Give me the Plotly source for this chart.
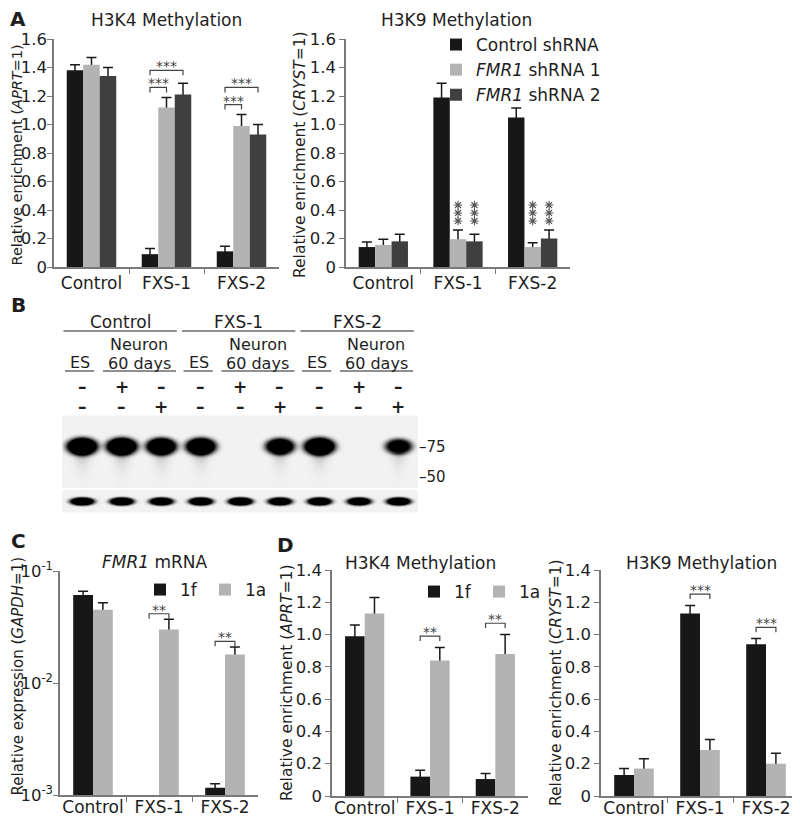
import numpy as np
import plotly.graph_objects as go

OFF = 8            # page body margin of the html page
W, H = 792, 811    # figure size so that the page fits 800x819
FONT = "DejaVu Sans"
TXT = "#1e1e1e"
AXC = "#7a7a7a"
ERRC = "#1a1a1a"
COL_BLACK = "#171717"
COL_LIGHT = "#b3b3b3"
COL_DARK = "#3f3f3f"

# ---------------- data ----------------
categories = ["Control", "FXS-1", "FXS-2"]

# Panel A
a_series = ["Control shRNA", "<i>FMR1</i> shRNA 1", "<i>FMR1</i> shRNA 2"]
a_h3k4_mean = [[1.38, 0.09, 0.11], [1.42, 1.12, 0.99], [1.34, 1.21, 0.93]]
a_h3k4_err = [[0.04, 0.04, 0.035], [0.05, 0.07, 0.08], [0.06, 0.08, 0.07]]
a_h3k4_sig = [(1, 0, 1, "***"), (1, 0, 2, "***"), (2, 0, 1, "***"), (2, 0, 2, "***")]
a_h3k9_mean = [[0.14, 1.19, 1.05], [0.155, 0.195, 0.14], [0.18, 0.18, 0.20]]
a_h3k9_err = [[0.035, 0.10, 0.065], [0.04, 0.065, 0.03], [0.05, 0.05, 0.06]]
a_h3k9_sig = [(1, 1), (1, 2), (2, 1), (2, 2)]
a_yticks = [0, 0.2, 0.4, 0.6, 0.8, 1.0, 1.2, 1.4, 1.6]

# Panel B (western blot)
b_groups = ["Control", "FXS-1", "FXS-2"]
b_sample = ["ES", "Neuron", "60 days"]
b_1f = ["–", "+", "–", "–", "+", "–", "–", "+", "–"]
b_1a = ["–", "–", "+", "–", "–", "+", "–", "–", "+"]
b_fmrp = [1.0, 1.0, 0.95, 0.95, 0.0, 0.85, 1.0, 0.0, 0.7]
b_actin = [0.9, 0.9, 0.85, 0.9, 0.95, 0.85, 0.9, 0.85, 0.9]
b_markers = ["–75", "–50"]

# Panel C
c_series = ["1f", "1a"]
c_mean = [[0.061, None, 0.00116], [0.045, 0.030, 0.018]]
c_err = [[0.005, None, 0.0001], [0.007, 0.007, 0.003]]
c_sig = [(1, 0, 1, "**"), (2, 0, 1, "**")]
c_ticks = [0.001, 0.01, 0.1]
c_ticktext = ["10<sup>-3</sup>", "10<sup>-2</sup>", "10<sup>-1</sup>"]

# Panel D
d_series = ["1f", "1a"]
d_h3k4_mean = [[0.99, 0.12, 0.105], [1.13, 0.84, 0.88]]
d_h3k4_err = [[0.07, 0.04, 0.035], [0.10, 0.08, 0.12]]
d_h3k4_sig = [(1, 0, 1, "**"), (2, 0, 1, "**")]
d_h3k9_mean = [[0.13, 1.13, 0.94], [0.17, 0.285, 0.20]]
d_h3k9_err = [[0.04, 0.05, 0.035], [0.06, 0.065, 0.065]]
d_h3k9_sig = [(1, 0, 1, "***"), (2, 0, 1, "***")]
d_yticks = [0, 0.2, 0.4, 0.6, 0.8, 1.0, 1.2, 1.4]


# ---------------- helpers ----------------
def px(x):
    return (x - OFF) / W


def py(y):
    return 1 - (y - OFF) / H


def fmt(v):
    return "0" if v == 0 else f"{v:.1f}"


fig = go.Figure()
annotations = []
shapes = []

A_COLORS = [COL_BLACK, COL_LIGHT, COL_DARK]
CD_COLORS = [COL_BLACK, COL_LIGHT]
A_W, A_OFF = 0.22, [-0.33, -0.11, 0.11]
CD_W, CD_OFF = 0.30, [-0.30, 0.0]


def centers(w, offs):
    return [o + w / 2 for o in offs]


def add_bars(xa, ya, names, means, errs, colors, w, offs, legend=None, showlegend=True):
    xs = list(range(len(categories)))
    for s in range(len(names)):
        fig.add_trace(go.Bar(
            x=xs, y=means[s], width=w, offset=offs[s], xaxis=xa, yaxis=ya,
            marker=dict(color="rgba(0,0,0,0)", line=dict(width=0)),
            error_y=dict(type="data", array=[e if e is not None else 0 for e in errs[s]],
                         color=ERRC, thickness=1.5, width=5),
            showlegend=False, hoverinfo="skip"))
    for s in range(len(names)):
        kw = dict(legend=legend) if legend else {}
        fig.add_trace(go.Bar(
            x=xs, y=means[s], width=w, offset=offs[s], xaxis=xa, yaxis=ya,
            marker=dict(color=colors[s], line=dict(width=0)), name=names[s],
            showlegend=showlegend, hoverinfo="skip", **kw))


def add_brackets(xa, ya, sig, means, errs, ctr, gap, stack, leg, log=False, fsize=14):
    prev = {}
    bx, by = [], []
    for ci, s1, s2, label in sig:
        tops = []
        for s in range(s1, s2 + 1):
            if means[s][ci] is not None:
                t = means[s][ci] + errs[s][ci]
                tops.append(np.log10(t) if log else t)
        y = max(tops) + gap
        if ci in prev:
            y = max(y, prev[ci] + stack)
        prev[ci] = y
        x1, x2 = ci + ctr[s1], ci + ctr[s2]
        ylo = y - leg
        if log:
            yy = [10 ** ylo, 10 ** y, 10 ** y, 10 ** ylo]
        else:
            yy = [ylo, y, y, ylo]
        bx += [x1, x1, x2, x2, None]
        by += yy + [None]
        annotations.append(dict(x=(x1 + x2) / 2, y=y, xref=xa, yref=ya, text=label,
                                showarrow=False, xanchor="center", yanchor="bottom", yshift=-6,
                                font=dict(size=fsize, color="#444")))
    fig.add_trace(go.Scatter(x=bx, y=by, xaxis=xa, yaxis=ya, mode="lines",
                             line=dict(color="#444", width=1.2), showlegend=False,
                             hoverinfo="skip", cliponaxis=False))


def xaxis_cfg(d0, d1, anchor, standoff=0):
    return dict(domain=[px(d0), px(d1)], anchor=anchor, range=[-0.5, 2.5],
                tickvals=[0, 1, 2], ticktext=categories, ticks="", automargin=False,
                ticklabelstandoff=standoff,
                showline=True, linecolor=AXC, linewidth=1.5, showgrid=False,
                zeroline=False, tickfont=dict(size=17, color=TXT), fixedrange=True,
                minor=dict(tickvals=[0.5, 1.5], ticks="outside", ticklen=5,
                           tickcolor=AXC, tickwidth=1.2, showgrid=False))


def yaxis_cfg(top, bot, rng, tv, tt, anchor, typ="linear", standoff=0):
    return dict(domain=[py(bot), py(top)], anchor=anchor, range=rng, type=typ,
                tickvals=tv, ticktext=tt, ticks="outside", ticklen=5, tickwidth=1.2,
                ticklabelstandoff=standoff,
                tickcolor=AXC, showline=True, linecolor=AXC, linewidth=1.5, automargin=False,
                showgrid=False, zeroline=False, tickfont=dict(size=16.5, color=TXT),
                fixedrange=True)


# ---------------- Panel A ----------------
add_bars("x", "y", a_series, a_h3k4_mean, a_h3k4_err, A_COLORS, A_W, A_OFF, showlegend=False)
add_brackets("x", "y", a_h3k4_sig, a_h3k4_mean, a_h3k4_err, centers(A_W, A_OFF), 0.07, 0.12, 0.035)
add_bars("x2", "y2", a_series, a_h3k9_mean, a_h3k9_err, A_COLORS, A_W, A_OFF, legend="legend")
STAR_BASE, STAR_STEP = 0.323, 0.056
sx, sy = [], []
ac = centers(A_W, A_OFF)
for ci, s in a_h3k9_sig:
    for k in range(3):
        sx.append(ci + ac[s])
        sy.append(STAR_BASE + k * STAR_STEP)
fig.add_trace(go.Scatter(x=sx, y=sy, xaxis="x2", yaxis="y2", mode="markers",
                         marker=dict(symbol="asterisk-open", size=7, color="#555",
                                     line=dict(color="#555", width=1.1)),
                         showlegend=False, hoverinfo="skip", cliponaxis=False))

# ---------------- Panel B ----------------
bx = np.linspace(-0.5, 8.5, 357)
byy = np.arange(416, 513)
X, Y = np.meshgrid(bx, byy)
Z = np.full(X.shape, 0.05)
for k, I in enumerate(b_fmrp):
    if I <= 0:
        continue
    s = 0.6 + 0.4 * I
    r2 = ((X - k) / (0.40 * s)) ** 2 + ((Y - 446) / (9.0 * s)) ** 2
    Z += 1.7 * I * np.exp(-r2 ** 2)
    dyt = Y - 452
    Z += 0.30 * I * np.exp(-((X - k) / (0.2 * s)) ** 2) * np.exp(-np.clip(dyt, 0, None) / 9.0) * (dyt > 0)
for k, I in enumerate(b_actin):
    r2 = ((X - k) / 0.32) ** 2 + ((Y - 501) / 4.2) ** 2
    Z += 1.7 * I * np.exp(-r2 ** 2)
Z = np.clip(Z, 0, 1)
Z[(Y > 487) & (Y < 490)] = np.nan
fig.add_trace(go.Heatmap(x=bx, y=byy, z=Z, xaxis="x3", yaxis="y3", zmin=0, zmax=1,
                         colorscale=[[0, "#ffffff"], [1, "#000000"]], showscale=False,
                         hoverinfo="skip"))

BT = dict(xref="x3", yref="y3", showarrow=False, yanchor="middle", font=dict(size=17, color=TXT))
BT16 = dict(xref="x3", yref="y3", showarrow=False, yanchor="middle", font=dict(size=16, color=TXT))
for g, name in enumerate(b_groups):
    b0 = 3 * g
    annotations.append(dict(x=b0 + 0.97, y=322, text=name, xanchor="center", **BT))
    shapes.append(dict(type="line", xref="x3", yref="y3", x0=b0 - 0.47, x1=b0 + 2.4, y0=331, y1=331,
                       line=dict(color="#222", width=1.2)))
    annotations.append(dict(x=b0 - 0.05, y=362, text=b_sample[0], xanchor="center", **BT16))
    annotations.append(dict(x=b0 + 1.45, y=344, text=b_sample[1], xanchor="center", **BT16))
    annotations.append(dict(x=b0 + 1.45, y=363, text=b_sample[2], xanchor="center", **BT16))
    shapes.append(dict(type="line", xref="x3", yref="y3", x0=b0 - 0.43, x1=b0 + 0.31, y0=371, y1=371,
                       line=dict(color="#222", width=1.2)))
    shapes.append(dict(type="line", xref="x3", yref="y3", x0=b0 + 0.53, x1=b0 + 2.38, y0=371, y1=371,
                       line=dict(color="#222", width=1.2)))
annotations.append(dict(x=-0.62, y=387, text="1f", xanchor="right", **BT))
annotations.append(dict(x=-0.62, y=407, text="1a", xanchor="right", **BT))
for k in range(9):
    annotations.append(dict(x=k, y=387, text=f"<b>{b_1f[k]}</b>", xanchor="center", **BT))
    annotations.append(dict(x=k, y=407, text=f"<b>{b_1a[k]}</b>", xanchor="center", **BT))
annotations.append(dict(x=-0.99, y=425, text="WB:", xref="x3", yref="y3", showarrow=False,
                        xanchor="center", yanchor="middle", font=dict(size=13, color=TXT)))
annotations.append(dict(x=-0.64, y=447, text="FMRP", xanchor="right", **BT))
annotations.append(dict(x=-0.64, y=501, text="Actin", xanchor="right", **BT))
shapes.append(dict(type="line", xref="x3", yref="y3", x0=-0.58, x1=-0.58, y0=434, y1=486,
                   line=dict(color="#222", width=1.2)))
shapes.append(dict(type="line", xref="x3", yref="y3", x0=-0.58, x1=-0.58, y0=491, y1=512,
                   line=dict(color="#222", width=1.2)))
for txt, yv in zip(b_markers, [447, 477]):
    annotations.append(dict(x=8.49, y=yv, text=txt, xanchor="left", yanchor="middle", xref="x3", yref="y3",
                            showarrow=False, font=dict(size=15, color=TXT)))

# ---------------- Panel C ----------------
add_bars("x4", "y4", c_series, c_mean, c_err, CD_COLORS, CD_W, CD_OFF, legend="legend2")
add_brackets("x4", "y4", c_sig, c_mean, c_err, centers(CD_W, CD_OFF), 0.05, 0.1, 0.045, log=True)

# ---------------- Panel D ----------------
add_bars("x5", "y5", d_series, d_h3k4_mean, d_h3k4_err, CD_COLORS, CD_W, CD_OFF, legend="legend3")
add_brackets("x5", "y5", d_h3k4_sig, d_h3k4_mean, d_h3k4_err, centers(CD_W, CD_OFF), 0.07, 0.12, 0.03)
add_bars("x6", "y6", d_series, d_h3k9_mean, d_h3k9_err, CD_COLORS, CD_W, CD_OFF, showlegend=False)
add_brackets("x6", "y6", d_h3k9_sig, d_h3k9_mean, d_h3k9_err, centers(CD_W, CD_OFF), 0.07, 0.12, 0.03)


# ---------------- text ----------------
def paper_text(x, y, text, size=17, angle=0, bold=False):
    annotations.append(dict(x=px(x), y=py(y), xref="paper", yref="paper",
                            text=f"<b>{text}</b>" if bold else text, xanchor="center", yanchor="middle",
                            showarrow=False, textangle=angle, font=dict(size=size, color=TXT)))


paper_text(18, 19, "A", 20, bold=True)
paper_text(18, 305, "B", 20, bold=True)
paper_text(18, 541, "C", 20, bold=True)
paper_text(285, 545, "D", 20, bold=True)

paper_text(166, 20, "H3K4 Methylation")
paper_text(456, 20, "H3K9 Methylation")
paper_text(155, 562, "<i>FMR1</i> mRNA")
paper_text(420, 563, "H3K4 Methylation")
paper_text(701, 563, "H3K9 Methylation")

paper_text(16.5, 155, "Relative enrichment (<i>APRT</i>=1)", 14.5, -90)
paper_text(300, 155, "Relative enrichment (<i>CRYST</i>=1)", 15.5, -90)
paper_text(17.5, 676, "Relative expression (<i>GAPDH</i>=1)", 15, -90)
paper_text(287, 683, "Relative enrichment (<i>APRT</i>=1)", 15.5, -90)
paper_text(556, 683, "Relative enrichment (<i>CRYST</i>=1)", 15.5, -90)

# ---------------- layout ----------------
LEG = dict(font=dict(size=17, color=TXT), bgcolor="rgba(0,0,0,0)", itemwidth=30)
fig.update_layout(
    width=W, height=H, margin=dict(l=0, r=0, t=0, b=0, pad=0, autoexpand=False),
    paper_bgcolor="white", plot_bgcolor="white",
    font=dict(family=FONT, color=TXT), barmode="overlay", hovermode=False,
    xaxis=xaxis_cfg(54, 279, "y"),
    yaxis=yaxis_cfg(39, 267, [0, 1.6], a_yticks, [fmt(v) for v in a_yticks], "x", standoff=-3),
    xaxis2=xaxis_cfg(346, 570, "y2"),
    yaxis2=yaxis_cfg(39, 267, [0, 1.6], a_yticks, [fmt(v) for v in a_yticks], "x2"),
    xaxis3=dict(domain=[px(62.25), px(417.75)], range=[-0.5, 8.5], anchor="y3", visible=False, fixedrange=True),
    yaxis3=dict(domain=[py(519), py(295)], range=[519, 295], anchor="x3", visible=False, fixedrange=True),
    xaxis4=xaxis_cfg(60, 258, "y4", -4),
    yaxis4=yaxis_cfg(571, 795, [-3, -1], c_ticks, c_ticktext, "x4", typ="log", standoff=-3),
    xaxis5=xaxis_cfg(332, 528, "y5", -4),
    yaxis5=yaxis_cfg(570, 796, [0, 1.4], d_yticks, [fmt(v) for v in d_yticks], "x5"),
    xaxis6=xaxis_cfg(601, 799, "y6", -4),
    yaxis6=yaxis_cfg(570, 796, [0, 1.4], d_yticks, [fmt(v) for v in d_yticks], "x6"),
    legend=dict(x=px(436), y=py(27), xanchor="left", yanchor="top", tracegroupgap=0,
                traceorder="normal", **LEG),
    legend2=dict(orientation="h", x=px(140), y=py(572), xanchor="left", yanchor="top",
                 entrywidth=20, entrywidthmode="pixels", **LEG),
    legend3=dict(orientation="h", x=px(414), y=py(574), xanchor="left", yanchor="top",
                 entrywidth=20, entrywidthmode="pixels", **LEG),
    annotations=annotations, shapes=shapes,
)

fig.write_html("out.html")
